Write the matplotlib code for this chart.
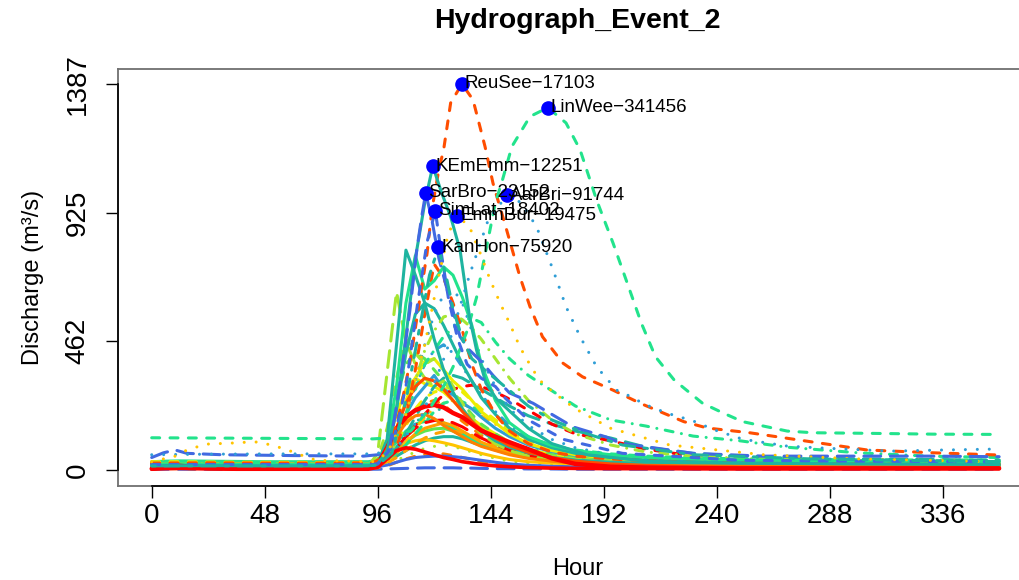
import matplotlib
matplotlib.use("Agg")
import matplotlib.pyplot as plt
import numpy as np

plt.rcParams['font.family'] = ['Liberation Sans', 'DejaVu Sans']

# ---- data (hours since event start, discharge m3/s) ----
# background gauges share one time axis
bg_hours = [0, 6, 12, 24, 36, 48, 60, 72, 84, 92, 96, 100, 104, 108, 112, 116, 120,
            124, 128, 132, 136, 140, 146, 152, 160, 170, 180, 195, 210, 230, 250,
            270, 300, 330, 360]

q_royal_dash0 = [3, 3, 3, 3, 3, 3, 3, 3, 3, 3, 3, 4, 5, 6, 7, 8, 8, 8, 8, 7, 7, 6, 5, 5, 4, 4, 3, 3, 3, 3, 3, 3, 3, 3, 3]
q_orange_low = [5, 5, 5, 5, 5, 5, 5, 5, 5, 5, 8, 15, 28, 40, 50, 56, 60, 58, 52, 45, 38, 30, 22, 16, 12, 9, 8, 7, 7, 6, 6, 6, 6, 6, 6]
q_lime_low = [8, 8, 8, 8, 8, 8, 8, 8, 8, 8, 10, 20, 35, 50, 65, 78, 85, 90, 85, 75, 65, 55, 42, 32, 24, 18, 14, 12, 11, 10, 10, 10, 10, 10, 10]
q_royal_solid = [10, 10, 10, 10, 10, 10, 10, 10, 10, 10, 12, 18, 28, 38, 45, 48, 50, 50, 48, 45, 40, 35, 28, 22, 17, 14, 12, 11, 10, 10, 10, 10, 10, 10, 10]
q_teal_low = [18, 18, 18, 18, 18, 18, 18, 18, 18, 18, 20, 30, 50, 70, 90, 105, 115, 120, 120, 112, 100, 88, 72, 58, 45, 36, 30, 26, 24, 22, 21, 20, 20, 20, 20]
q_yellow_low = [15, 15, 16, 15, 15, 15, 15, 15, 15, 15, 20, 40, 70, 95, 105, 110, 105, 98, 90, 80, 70, 60, 48, 38, 30, 25, 22, 20, 19, 18, 18, 17, 17, 17, 17]
q_chart = [25, 25, 25, 25, 24, 24, 24, 24, 24, 24, 28, 40, 70, 100, 125, 140, 148, 150, 140, 125, 110, 95, 78, 62, 48, 38, 32, 28, 26, 25, 24, 24, 23, 23, 23]
q_spring_low = [30, 32, 33, 32, 31, 30, 30, 30, 30, 30, 35, 60, 100, 140, 165, 175, 180, 170, 150, 130, 110, 95, 80, 68, 55, 45, 40, 36, 34, 33, 32, 32, 31, 31, 30]
q_orange_c = [12, 12, 12, 12, 12, 12, 12, 12, 12, 12, 14, 25, 45, 70, 95, 115, 130, 138, 140, 135, 125, 110, 90, 70, 50, 35, 26, 20, 17, 15, 14, 13, 13, 13, 13]
q_orange_b = [8, 18, 20, 12, 10, 10, 9, 9, 9, 10, 15, 30, 60, 100, 130, 150, 160, 170, 160, 140, 120, 100, 80, 60, 45, 32, 24, 18, 14, 12, 11, 10, 10, 10, 10]
q_orange_d = [14, 14, 14, 14, 14, 14, 14, 14, 14, 14, 18, 45, 110, 170, 215, 240, 250, 235, 205, 175, 150, 125, 100, 78, 58, 42, 32, 25, 21, 18, 16, 15, 15, 15, 15]
q_gold_dd = [22, 22, 22, 22, 22, 22, 22, 22, 22, 22, 24, 35, 60, 100, 150, 190, 220, 240, 250, 240, 220, 195, 165, 135, 105, 80, 62, 48, 40, 34, 30, 28, 27, 26, 25]
q_red_ld = [8, 8, 8, 8, 8, 8, 8, 8, 8, 8, 12, 35, 80, 120, 150, 170, 178, 180, 170, 155, 135, 115, 92, 72, 52, 36, 26, 18, 14, 12, 11, 10, 10, 10, 10]
q_orange_a = [10, 10, 10, 10, 10, 10, 10, 10, 10, 10, 20, 60, 120, 170, 195, 200, 185, 160, 140, 120, 100, 85, 70, 55, 42, 32, 25, 20, 17, 15, 14, 13, 12, 12, 12]
q_teal_dot = [20, 20, 20, 20, 20, 20, 20, 20, 20, 20, 22, 40, 80, 130, 170, 200, 215, 220, 210, 190, 170, 150, 125, 100, 78, 58, 45, 35, 30, 27, 25, 24, 23, 22, 22]
q_spring_dash = [28, 28, 28, 28, 28, 28, 28, 28, 28, 28, 30, 40, 60, 90, 130, 170, 210, 240, 250, 245, 230, 205, 175, 145, 115, 90, 72, 58, 50, 44, 40, 38, 37, 36, 36]
q_yellow_b = [30, 30, 30, 29, 28, 28, 28, 27, 27, 27, 30, 50, 100, 160, 220, 260, 280, 290, 300, 280, 250, 220, 180, 145, 110, 80, 62, 48, 40, 35, 32, 30, 30, 29, 29]
q_yellow_c = [18, 18, 18, 18, 18, 18, 18, 18, 18, 18, 25, 90, 200, 290, 330, 310, 300, 280, 250, 215, 185, 160, 130, 100, 75, 55, 42, 32, 27, 23, 21, 20, 20, 19, 19]
q_sky_a = [12, 12, 12, 12, 12, 12, 12, 12, 12, 12, 20, 60, 130, 200, 260, 300, 340, 290, 270, 240, 220, 190, 150, 120, 90, 65, 50, 38, 30, 25, 22, 20, 18, 18, 18]
q_sky_dd = [16, 16, 16, 16, 16, 16, 16, 16, 16, 16, 20, 45, 110, 200, 300, 380, 430, 450, 420, 370, 320, 270, 210, 160, 120, 85, 62, 45, 35, 28, 25, 23, 21, 20, 20]
q_yellow_a = [20, 20, 21, 20, 20, 20, 19, 19, 19, 20, 30, 70, 150, 250, 330, 390, 400, 360, 320, 290, 250, 210, 170, 130, 95, 70, 55, 40, 32, 28, 25, 23, 22, 22, 21]
q_teal_ld = [20, 20, 20, 20, 20, 20, 20, 20, 20, 20, 25, 40, 80, 130, 190, 250, 300, 330, 340, 330, 310, 290, 260, 230, 195, 165, 140, 115, 82, 60, 50, 45, 40, 38, 35]
q_red_dash = [10, 10, 10, 10, 10, 10, 10, 10, 10, 10, 15, 40, 80, 120, 160, 200, 240, 270, 290, 300, 305, 300, 280, 255, 215, 165, 130, 105, 75, 50, 35, 28, 24, 22, 20]
q_chart_dash = [20, 20, 20, 20, 20, 20, 20, 20, 20, 20, 30, 110, 260, 380, 420, 400, 360, 320, 280, 240, 200, 165, 130, 100, 75, 55, 42, 33, 28, 25, 23, 22, 21, 21, 20]
q_lime_d = [25, 25, 24, 24, 23, 23, 22, 22, 22, 22, 40, 150, 330, 470, 420, 380, 400, 360, 300, 240, 190, 150, 110, 85, 65, 50, 40, 32, 28, 25, 23, 22, 21, 20, 20]
q_lime_ld = [12, 12, 13, 12, 12, 12, 12, 12, 12, 14, 60, 350, 640, 460, 380, 330, 300, 320, 280, 220, 170, 130, 95, 70, 50, 38, 30, 25, 22, 20, 18, 17, 16, 15, 15]
q_teal_mid = [16, 16, 16, 16, 16, 16, 16, 16, 16, 16, 22, 70, 220, 420, 560, 600, 580, 520, 450, 380, 320, 260, 200, 150, 110, 80, 60, 45, 36, 30, 27, 25, 23, 22, 22]
q_sky_dot = [10, 10, 11, 10, 10, 10, 10, 10, 10, 10, 15, 40, 100, 200, 320, 450, 560, 630, 650, 600, 500, 400, 300, 220, 160, 110, 80, 55, 40, 32, 28, 25, 22, 20, 18]
q_lime_dd = [15, 15, 15, 15, 15, 15, 15, 15, 15, 15, 20, 40, 100, 200, 320, 430, 500, 550, 560, 540, 510, 470, 400, 330, 250, 180, 130, 90, 65, 50, 42, 38, 34, 32, 30]
q_spring_dd = [20, 20, 20, 20, 20, 20, 20, 20, 20, 20, 25, 60, 130, 200, 290, 380, 430, 480, 510, 540, 545, 530, 460, 400, 340, 285, 230, 180, 158, 122, 105, 82, 62, 50, 45]
q_ored_b = [20, 20, 20, 20, 20, 20, 20, 20, 20, 20, 25, 40, 80, 190, 360, 560, 740, 690, 600, 500, 380, 290, 200, 140, 95, 65, 50, 40, 33, 28, 25, 23, 22, 21, 20]
q_spring_twin = [20, 22, 22, 21, 20, 20, 20, 20, 20, 21, 30, 90, 300, 600, 770, 650, 680, 730, 700, 620, 520, 380, 250, 170, 120, 88, 70, 55, 46, 40, 37, 35, 33, 32, 30]
q_teal_twin = [15, 15, 16, 15, 14, 14, 14, 14, 14, 15, 25, 110, 450, 790, 700, 600, 470, 360, 280, 220, 175, 140, 105, 82, 62, 46, 36, 28, 24, 20, 18, 17, 16, 15, 15]
q_ored_solid = [6, 6, 6, 6, 6, 6, 6, 6, 6, 6, 12, 60, 150, 240, 300, 330, 320, 290, 250, 210, 175, 145, 115, 88, 64, 45, 32, 22, 16, 12, 10, 9, 8, 8, 8]
q_red_low = [3, 5, 6, 4, 3, 3, 3, 3, 3, 3, 10, 40, 70, 80, 75, 65, 55, 45, 38, 30, 25, 20, 15, 12, 9, 7, 6, 5, 5, 5, 5, 5, 5, 5, 5]
q_red_thick = [5, 12, 15, 8, 6, 6, 5, 5, 5, 8, 20, 80, 150, 190, 215, 228, 234, 225, 205, 190, 165, 142, 120, 100, 75, 42, 22, 12, 9, 7, 6, 6, 6, 6, 6]

# labelled gauges (own time axes)
reusee_h = [0, 24, 48, 72, 94, 98, 102, 106, 110, 114, 117, 119, 122, 124, 127, 131.8, 136.5,
            141.6, 145, 150.8, 156.4, 160.7, 166, 174.7, 183, 196, 207.5, 226, 236, 254, 283,
            304, 332, 360]
reusee_q = [25, 26, 25, 25, 26, 45, 110, 230, 400, 620, 780, 934, 1080, 1150, 1319, 1387, 1330,
            1162, 1030, 862, 695, 587, 479, 384, 335, 287, 240, 174, 151, 134, 98, 72, 62, 54]

linwee_h = [0, 24, 48, 72, 94, 100, 110, 118, 124, 128, 134, 138, 142, 146, 149, 153, 160.7,
            168.3, 176, 182, 189, 196, 202, 208, 214, 222, 234, 243, 251, 261, 270, 281, 304,
            332, 360]
linwee_q = [116, 115, 114, 113, 112, 115, 140, 220, 300, 370, 500, 620, 790, 960, 1042, 1162,
            1270, 1302, 1247, 1150, 970, 815, 672, 528, 407, 323, 240, 204, 174, 156, 140, 134,
            132, 129, 128]

kemem_h = [0, 24, 48, 72, 92, 96, 100, 104, 108, 112, 116, 119.4, 123, 127, 131, 133, 135, 138,
           142, 146.5, 151, 160, 170, 185, 210, 250, 300, 360]
kemem_q = [15, 16, 15, 15, 15, 22, 70, 220, 480, 760, 960, 1092, 1000, 910, 790, 671, 551, 431,
           312, 255, 220, 150, 95, 55, 32, 25, 22, 20]

sarbro_h = [0, 5, 10, 15, 30, 60, 90, 96, 101, 105.5, 109.7, 112.6, 114.7, 116.4, 119, 122,
            126.7, 131, 135, 140, 145, 152, 162, 179, 193, 199, 230, 260, 300, 330, 360]
sarbro_q = [45, 62, 72, 60, 55, 52, 50, 55, 72, 312, 575, 790, 910, 996, 900, 760, 611, 479, 431,
            390, 340, 277, 240, 155, 119, 97, 60, 50, 50, 50, 48]

aarbri_h = [0, 24, 48, 72, 92, 96, 105, 115, 125, 135, 143, 151, 157, 163.5, 170.5, 176, 182,
            189, 197.5, 202, 210, 219, 224, 233, 237, 251, 270, 285, 314, 336, 356, 360]
aarbri_q = [55, 57, 58, 58, 58, 60, 90, 200, 420, 700, 900, 988, 960, 874, 719, 587, 479, 371,
            287, 270, 234, 204, 192, 168, 150, 111, 86, 79, 68, 72, 75, 70]

simlat_h = [0, 48, 92, 96, 102, 108, 113, 117, 120.5, 123, 126, 130, 134, 140, 146, 150, 160,
            175, 200, 250, 300, 360]
simlat_q = [20, 20, 20, 22, 80, 300, 600, 820, 931, 780, 620, 470, 380, 330, 300, 260, 180, 110,
            60, 35, 32, 30]

emmbur_h = [0, 10, 15, 23, 37, 43, 47, 57, 61, 70, 94, 100, 108, 116, 122, 126, 129.8, 135,
            139.5, 143.8, 148, 152, 156.4, 162, 166, 172, 180, 195, 220, 260, 300, 360]
emmbur_q = [30, 50, 72, 93, 98, 102, 98, 75, 61, 35, 30, 60, 200, 450, 700, 850, 914, 874, 780,
            683, 600, 528, 442, 359, 312, 270, 220, 150, 90, 55, 40, 30]

kanhon_h = [0, 48, 92, 96, 102, 108, 114, 118, 121.8, 125, 128, 132, 136, 140, 150, 160, 170,
            185, 200, 230, 280, 360]
kanhon_q = [15, 15, 15, 18, 60, 250, 520, 700, 800, 700, 580, 470, 400, 370, 300, 230, 180, 130,
            90, 55, 40, 30]

station_names = ["ReuSee\u221217103", "LinWee\u2212341456", "KEmEmm\u221212251",
                 "SarBro\u221223152", "AarBri\u221291744", "SimLat\u221218402",
                 "EmmBur\u221219475", "KanHon\u221275920"]

# ---- styles ----
RED, ORED, DORANGE, ORANGE = "#FF0000", "#FF4D00", "#FF7F00", "#FFA200"
GOLD, YELLOW, LIME, CHART = "#FFC400", "#EDED00", "#A6E632", "#5EE650"
SPRING, TEAL, SKY, ROYAL = "#22E38C", "#1EB4A0", "#2F9ED6", "#4169E1"

LTY = {
    'solid': '-',
    'dashed': (0, (2.6, 3.4)),
    'dotted': (0, (0.01, 3.9)),
    'dotdash': (0, (0.01, 2.8, 2.6, 2.8)),
    'longdash': (0, (5.5, 3.2)),
    'twodash': (0, (1.2, 3.0, 4.8, 3.0)),
}

background = [
    (q_royal_dash0, ROYAL, 'longdash', 2.2),
    (q_orange_low, DORANGE, 'dashed', 2.2),
    (q_lime_low, LIME, 'dotted', 2.2),
    (q_royal_solid, ROYAL, 'solid', 2.2),
    (q_teal_low, TEAL, 'solid', 2.2),
    (q_yellow_low, GOLD, 'solid', 2.2),
    (q_chart, CHART, 'solid', 2.2),
    (q_spring_low, SPRING, 'solid', 2.2),
    (q_orange_c, ORANGE, 'dashed', 2.2),
    (q_orange_b, ORANGE, 'solid', 2.2),
    (q_orange_d, DORANGE, 'dashed', 2.2),
    (q_gold_dd, GOLD, 'dotdash', 2.2),
    (q_red_ld, RED, 'longdash', 2.2),
    (q_teal_dot, TEAL, 'dotted', 2.2),
    (q_spring_dash, SPRING, 'dashed', 2.2),
    (q_yellow_b, YELLOW, 'dashed', 2.2),
    (q_yellow_c, YELLOW, 'solid', 2.2),
    (q_sky_a, SKY, 'solid', 2.2),
    (q_sky_dd, SKY, 'dotdash', 2.2),
    (q_yellow_a, YELLOW, 'solid', 2.2),
    (q_teal_ld, TEAL, 'longdash', 2.2),
    (q_red_dash, RED, 'dashed', 2.2),
    (q_chart_dash, CHART, 'dashed', 2.2),
    (q_lime_d, LIME, 'dashed', 2.2),
    (q_lime_ld, LIME, 'longdash', 2.2),
    (q_teal_mid, TEAL, 'solid', 2.2),
    (q_sky_dot, SKY, 'dotted', 2.2),
    (q_lime_dd, LIME, 'dotdash', 2.2),
    (q_spring_dd, SPRING, 'dotdash', 2.2),
    (q_ored_b, ORED, 'dashed', 2.2),
    (q_spring_twin, SPRING, 'solid', 2.2),
    (q_teal_twin, TEAL, 'solid', 2.2),
    (q_orange_a, DORANGE, 'solid', 2.2),
    (q_ored_solid, ORED, 'solid', 2.2),
    (q_red_low, RED, 'solid', 2.6),
    (q_red_thick, RED, 'solid', 3.2),
]

labelled = [
    (reusee_h, reusee_q, ORED, 'dashed'),
    (linwee_h, linwee_q, SPRING, 'dashed'),
    (kemem_h, kemem_q, TEAL, 'solid'),
    (sarbro_h, sarbro_q, ROYAL, 'longdash'),
    (aarbri_h, aarbri_q, SKY, 'dotted'),
    (simlat_h, simlat_q, ROYAL, 'dashed'),
    (emmbur_h, emmbur_q, GOLD, 'dotted'),
    (kanhon_h, kanhon_q, TEAL, 'twodash'),
]

# ---- figure ----
W, H = 1020, 580
fig = plt.figure(figsize=(W / 100, H / 100), dpi=100)

all_h = bg_hours + sum([s[0] for s in labelled], [])
all_q = sum([s[0] for s in background], []) + sum([s[1] for s in labelled], [])
xmin, xmax = 0, max(all_h)
ymin, ymax = 0, max(all_q)
xlo, xhi = xmin - 0.04 * (xmax - xmin), xmax + 0.04 * (xmax - xmin)
ylo, yhi = ymin - 0.04 * (ymax - ymin), ymax + 0.04 * (ymax - ymin)

# axes placed so that hour 0 sits at 151.7 px and 2.354 px per hour
px_per_h = 2.354
ax_left = 151.7 + xlo * px_per_h
ax_w = (xhi - xlo) * px_per_h
ax = fig.add_axes([ax_left / W, 94.5 / H, ax_w / W, 417 / H])

for q, col, lty, lw in background:
    ax.plot(bg_hours, q, color=col, ls=LTY[lty], lw=lw,
            dash_capstyle='round', solid_capstyle='round', solid_joinstyle='round')

for h, q, col, lty in labelled:
    ax.plot(h, q, color=col, ls=LTY[lty], lw=2.2,
            dash_capstyle='round', solid_capstyle='round', solid_joinstyle='round')

# peak markers and station labels
for (h, q, col, lty), name in zip(labelled, station_names):
    i = int(np.argmax(q))
    ax.plot(h[i], q[i], 'o', color='#0000FF', ms=9.5, zorder=10)
    ax.annotate(name, (h[i], q[i]), xytext=(2, 0), textcoords='offset points',
                ha='left', va='center', fontsize=13.5, color='black', zorder=11)

ax.set_xlim(xlo, xhi)
ax.set_ylim(ylo, yhi)

xticks = np.arange(0, 337, 48)
yticks = np.linspace(0, ymax, 4)
ax.set_xticks(xticks)
ax.set_xticklabels([str(int(v)) for v in xticks])
ax.set_yticks(yticks)
ax.set_yticklabels([f"{v:.0f}" for v in yticks], rotation=90, va='center')

ax.tick_params(axis='both', direction='out', length=8.5, width=1.0, color='black',
               labelsize=20)
ax.tick_params(axis='x', pad=4)
ax.tick_params(axis='y', pad=11)

for sp in ax.spines.values():
    sp.set_color('#707070')
    sp.set_linewidth(1.3)

# R-style axis lines between first and last tick
ax.plot([xticks[0], xticks[-1]], [ylo, ylo], color='black', lw=1.2, clip_on=False, zorder=12)
ax.plot([xlo, xlo], [yticks[0], yticks[-1]], color='black', lw=1.2, clip_on=False, zorder=12)

fig.text(577 / W, 1 - 28 / H, "Hydrograph_Event_2", ha='center', va='baseline',
         fontsize=20.5, fontweight='bold')
fig.text(578 / W, 1 - 575 / H, "Hour", ha='center', va='baseline', fontsize=17)
fig.text(33 / W, 1 - 277 / H, "Discharge (m\u00b3/s)", ha='center', va='center',
         rotation=90, fontsize=17)

fig.savefig("out.png", dpi=100)
